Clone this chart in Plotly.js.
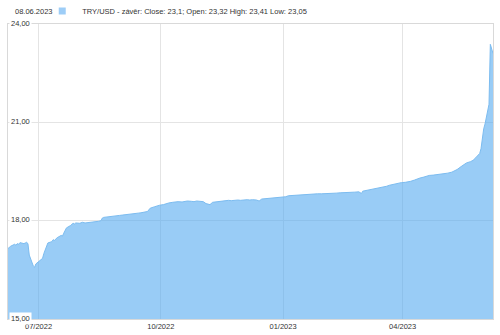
<!DOCTYPE html>
<html><head><meta charset="utf-8">
<script src="https://cdn.plot.ly/plotly-3.0.1.min.js"></script>
<style>html,body{margin:0;padding:0;background:#fff}#chart{width:500px;height:335px}</style>
</head><body><div id="chart"></div>
<script>
const dates = [
'2022-06-08','2022-06-09','2022-06-10','2022-06-13','2022-06-14','2022-06-15','2022-06-16','2022-06-17','2022-06-20','2022-06-21','2022-06-22','2022-06-23','2022-06-24','2022-06-27','2022-06-28','2022-06-29','2022-06-30',
'2022-07-01','2022-07-04','2022-07-05','2022-07-06','2022-07-07','2022-07-08','2022-07-11','2022-07-12','2022-07-13','2022-07-14','2022-07-15','2022-07-18','2022-07-19','2022-07-20','2022-07-21','2022-07-22','2022-07-25','2022-07-26','2022-07-27','2022-07-28','2022-07-29',
'2022-08-01','2022-08-03','2022-08-05','2022-08-08','2022-08-10','2022-08-12','2022-08-15','2022-08-17','2022-08-18','2022-08-19','2022-08-22','2022-08-24','2022-08-26','2022-08-29','2022-08-31',
'2022-09-02','2022-09-05','2022-09-07','2022-09-09','2022-09-12','2022-09-14','2022-09-16','2022-09-19','2022-09-21','2022-09-22','2022-09-23','2022-09-26','2022-09-28','2022-09-30',
'2022-10-03','2022-10-05','2022-10-07','2022-10-10','2022-10-12','2022-10-14','2022-10-17','2022-10-19','2022-10-21','2022-10-24','2022-10-26','2022-10-28','2022-10-31',
'2022-11-02','2022-11-04','2022-11-07','2022-11-09','2022-11-11','2022-11-14','2022-11-16','2022-11-18','2022-11-21','2022-11-23','2022-11-25','2022-11-28','2022-11-30',
'2022-12-02','2022-12-05','2022-12-07','2022-12-09','2022-12-12','2022-12-14','2022-12-16','2022-12-19','2022-12-21','2022-12-23','2022-12-26','2022-12-28','2022-12-30',
'2023-01-03','2023-01-05','2023-01-09','2023-01-11','2023-01-13','2023-01-16','2023-01-18','2023-01-20','2023-01-23','2023-01-25','2023-01-27','2023-01-30',
'2023-02-01','2023-02-03','2023-02-06','2023-02-08','2023-02-10','2023-02-13','2023-02-15','2023-02-17','2023-02-20','2023-02-22','2023-02-24','2023-02-27',
'2023-03-01','2023-03-02','2023-03-06','2023-03-08','2023-03-10','2023-03-13','2023-03-15','2023-03-17','2023-03-20','2023-03-22','2023-03-24','2023-03-27','2023-03-29','2023-03-31',
'2023-04-03','2023-04-05','2023-04-07','2023-04-10','2023-04-12','2023-04-14','2023-04-17','2023-04-19','2023-04-21','2023-04-24','2023-04-26','2023-04-28',
'2023-05-01','2023-05-03','2023-05-05','2023-05-08','2023-05-10','2023-05-12','2023-05-15','2023-05-17','2023-05-19','2023-05-22','2023-05-24','2023-05-26','2023-05-29','2023-05-30','2023-05-31',
'2023-06-01','2023-06-02','2023-06-05','2023-06-06','2023-06-07','2023-06-08'
];
const closes = [
17.15,17.20,17.22,17.28,17.25,17.30,17.28,17.33,17.30,17.32,17.34,17.30,16.95,16.62,16.58,16.68,16.72,
16.75,16.85,17.00,17.12,17.25,17.32,17.36,17.42,17.40,17.45,17.48,17.55,17.53,17.62,17.72,17.78,17.85,17.88,17.92,17.90,17.93,
17.92,17.95,17.93,17.94,17.96,17.95,17.98,18.00,18.08,18.10,18.11,18.12,18.14,18.15,18.16,
18.17,18.18,18.20,18.20,18.21,18.23,18.24,18.26,18.28,18.33,18.38,18.42,18.45,18.47,
18.49,18.52,18.54,18.56,18.57,18.58,18.57,18.58,18.60,18.59,18.58,18.60,18.59,
18.58,18.52,18.49,18.56,18.57,18.59,18.60,18.61,18.62,18.61,18.62,18.63,18.62,
18.63,18.64,18.63,18.64,18.63,18.60,18.66,18.67,18.68,18.69,18.70,18.71,18.70,
18.73,18.76,18.77,18.78,18.80,18.79,18.80,18.80,18.81,18.81,18.82,18.82,
18.82,18.83,18.83,18.84,18.84,18.85,18.85,18.86,18.86,18.87,18.87,18.88,
18.83,18.90,18.93,18.96,18.98,19.00,19.02,19.03,19.05,19.08,19.10,19.12,19.14,19.16,
19.17,19.18,19.20,19.24,19.28,19.30,19.33,19.36,19.38,19.39,19.40,19.41,
19.42,19.43,19.45,19.48,19.52,19.56,19.65,19.72,19.76,19.80,19.84,19.92,20.05,20.20,20.55,
20.80,20.95,21.55,23.38,23.25,23.10
];
const yTickVals = [15, 18, 21, 24];
const yTickText = ['15,00', '18,00', '21,00', '24,00'];
const seriesName = 'TRY/USD - závěr: Close: 23,1; Open: 23,32 High: 23,41 Low: 23,05';
const lastDateLabel = '08.06.2023';

const font = {family: 'Liberation Sans, Arial, sans-serif', size: 7.5, color: '#333'};
const fillColor = 'rgba(85,170,240,0.6)';

const areaTrace = {
  type: 'scatter', mode: 'lines', x: dates, y: closes, name: seriesName,
  fill: 'tozeroy', fillcolor: fillColor,
  line: {color: '#7cbcf0', width: 1}, showlegend: false
};
const legendTrace = {
  type: 'scatter', mode: 'markers', x: [null], y: [null], name: seriesName,
  marker: {symbol: 'square', size: 7, color: '#9dcdf7'}, showlegend: true
};

const annotations = yTickVals.map((v, i) => ({
  xref: 'paper', yref: 'y', x: 0, y: v, xanchor: 'left', yanchor: 'middle',
  xshift: 1, yshift: 1, text: yTickText[i], showarrow: false,
  bgcolor: '#ffffff', borderpad: 1, font: font
}));
annotations.push({
  xref: 'paper', yref: 'paper', x: 0, y: 1, xanchor: 'left', yanchor: 'middle',
  xshift: 5, yshift: 13, text: lastDateLabel, showarrow: false, font: font
});

const layout = {
  width: 500, height: 335,
  margin: {l: 8, r: 7, t: 24, b: 16, autoexpand: false},
  paper_bgcolor: '#fff', plot_bgcolor: '#fff',
  font: font,
  showlegend: true,
  legend: {orientation: 'h', x: 0.0706, xanchor: 'left', y: 1.044, yanchor: 'middle',
           font: font, bgcolor: 'rgba(0,0,0,0)', itemwidth: 30, tracegroupgap: 0},
  xaxis: {
    type: 'date', range: ['2022-06-08', '2023-06-08'],
    tick0: '2022-07-01', dtick: 'M3', tickformat: '%m/%Y',
    showgrid: true, gridcolor: '#e4e4e4', gridwidth: 1, ticks: '',
    tickfont: font, showline: true, linecolor: '#d9d9d9', mirror: true, zeroline: false,
    fixedrange: true
  },
  yaxis: {
    range: [15, 24], tickvals: yTickVals, showticklabels: false,
    showgrid: true, gridcolor: '#e4e4e4', gridwidth: 1, ticks: '',
    showline: true, linecolor: '#d9d9d9', mirror: true, zeroline: false, fixedrange: true
  },
  annotations: annotations
};
Plotly.newPlot('chart', [areaTrace, legendTrace], layout, {displayModeBar: false, staticPlot: true});
</script>
</body></html>
